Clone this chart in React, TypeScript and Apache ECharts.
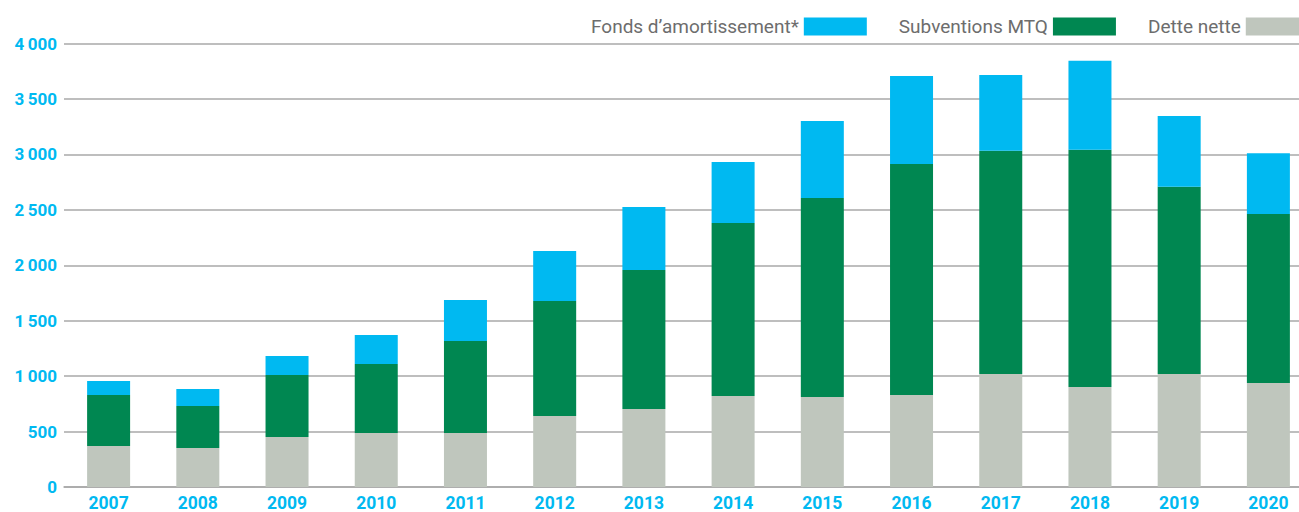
import React, { useEffect, useRef } from "react";
import * as echarts from "echarts";

const years = ["2007","2008","2009","2010","2011","2012","2013","2014","2015","2016","2017","2018","2019","2020"];
const detteNette = [370, 352, 451, 487, 487, 641, 704, 821, 812, 830, 1020, 902, 1020, 938];
const subventionsMTQ = [460, 379, 560, 623, 830, 1037, 1254, 1561, 1795, 2084, 2012, 2139, 1687, 1525];
const fondsAmortissement = [126, 153, 171, 261, 370, 451, 568, 550, 695, 794, 685, 803, 640, 548];

const CYAN = "#00b9f1";
const GREEN = "#008751";
const GRAY = "#bfc6bd";

export default function App() {
  const ref = useRef<HTMLDivElement>(null);
  useEffect(() => {
    const chart = echarts.init(ref.current!, null, { renderer: "svg" });
    chart.setOption({
      animation: false,
      backgroundColor: "#ffffff",
      legend: {
        top: 12,
        left: 586,
        align: "right",
        itemWidth: 63,
        itemHeight: 18,
        itemGap: 32,
        icon: "rect",
        textStyle: { color: "#6d6d6d", fontSize: 19, fontFamily: "Roboto, 'Liberation Sans', sans-serif", padding: [0, 0, 0, 0] },
        data: ["Fonds d’amortissement*", "Subventions MTQ", "Dette nette"],
      },
      grid: { left: 64, right: -14, top: 43.5, bottom: 25, containLabel: false, outerBoundsMode: "none" },
      xAxis: {
        type: "category",
        data: years,
        axisTick: { show: false },
        axisLine: { lineStyle: { color: "#a8a8a8", width: 1.5 } },
        axisLabel: { color: CYAN, fontSize: 17.5, lineHeight: 17, fontWeight: "bold", margin: 7, fontFamily: "Roboto, sans-serif" },
      },
      yAxis: {
        type: "value",
        min: 0,
        max: 4000,
        interval: 500,
        axisLine: { show: false },
        axisTick: { show: false },
        splitLine: { lineStyle: { color: "#a8a8a8", width: 1.5 } },
        axisLabel: {
          color: CYAN,
          fontSize: 17,
          fontWeight: "bold",
          margin: 7,
          fontFamily: "Roboto, sans-serif",
          formatter: (v: number) => (v >= 1000 ? String(v).replace(/(\d)(\d{3})$/, "$1\u2009$2") : String(v)),
        },
      },
      series: [
        { name: "Dette nette", type: "bar", stack: "t", data: detteNette, barWidth: 43, itemStyle: { color: GRAY } },
        { name: "Subventions MTQ", type: "bar", stack: "t", data: subventionsMTQ, barWidth: 43, itemStyle: { color: GREEN } },
        { name: "Fonds d’amortissement*", type: "bar", stack: "t", data: fondsAmortissement, barWidth: 43, itemStyle: { color: CYAN } },
      ],
    });
    return () => chart.dispose();
  }, []);
  return <div ref={ref} style={{ position: "fixed", left: 0, top: 0, width: 1299, height: 512 }} />;
}
